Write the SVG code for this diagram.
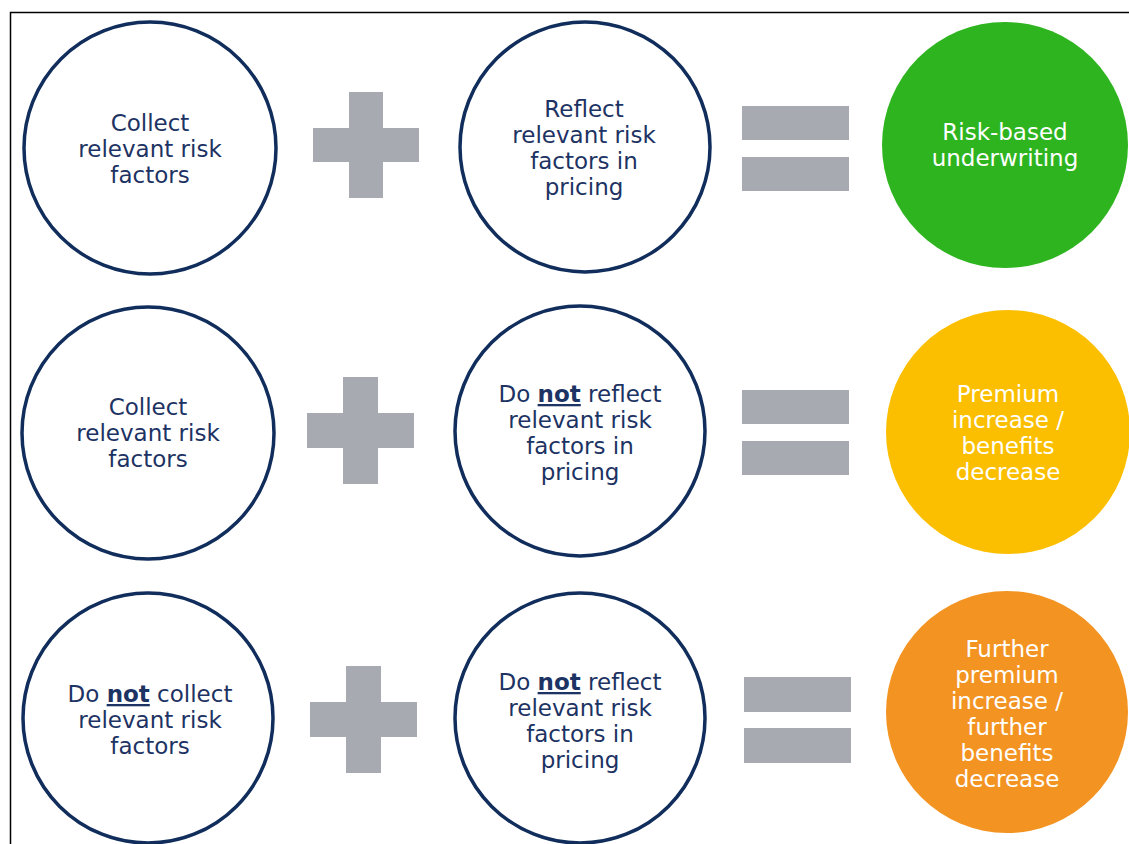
<svg xmlns="http://www.w3.org/2000/svg" width="1129" height="844" viewBox="0 0 1129 844">
<style>
.ring{fill:#fff;stroke:#102d5c;stroke-width:3.5}
.t{font-family:"DejaVu Sans",Verdana,sans-serif;font-size:23px;text-anchor:middle;fill:#1d3363}
.w{fill:#fff}
.op{fill:#a8aab1}
.u{font-weight:bold;text-decoration:underline}
</style>
<rect x="0" y="0" width="1129" height="844" fill="#fff"/>
<rect x="10.5" y="12.5" width="1130" height="840" fill="none" stroke="#000" stroke-width="1.5"/>
<g id="connectors">
<g id="plus1" class="op"><rect x="349" y="92" width="34" height="106"/><rect x="313" y="128" width="106" height="34"/></g>
<g id="eq1" class="op"><rect x="742" y="106" width="107" height="34"/><rect x="742" y="157" width="107" height="34"/></g>
<g id="plus2" class="op"><rect x="343" y="377" width="35" height="107"/><rect x="307" y="413" width="107" height="35"/></g>
<g id="eq2" class="op"><rect x="742" y="390" width="107" height="34"/><rect x="742" y="441" width="107" height="34"/></g>
<g id="plus3" class="op"><rect x="346" y="666" width="35" height="107"/><rect x="310" y="702" width="107" height="35"/></g>
<g id="eq3" class="op"><rect x="744" y="677" width="107" height="35"/><rect x="744" y="728" width="107" height="35"/></g>
</g>
<g id="r1a"><circle class="ring" cx="150" cy="148" r="126"/>
<text class="t"><tspan x="150" y="131">Collect</tspan><tspan x="150" y="157">relevant risk</tspan><tspan x="150" y="183">factors</tspan></text></g>
<g id="r1b"><circle class="ring" cx="585" cy="147" r="125"/>
<text class="t"><tspan x="584" y="117">Reflect</tspan><tspan x="584" y="143">relevant risk</tspan><tspan x="584" y="169">factors in</tspan><tspan x="584" y="195">pricing</tspan></text></g>
<g id="r1c"><circle cx="1005" cy="145" r="123" fill="#2eb41f"/>
<text class="t w"><tspan x="1005" y="140">Risk-based</tspan><tspan x="1005" y="166">underwriting</tspan></text></g>
<g id="r2a"><circle class="ring" cx="148" cy="433" r="126"/>
<text class="t"><tspan x="148" y="415">Collect</tspan><tspan x="148" y="441">relevant risk</tspan><tspan x="148" y="467">factors</tspan></text></g>
<g id="r2b"><circle class="ring" cx="580" cy="431" r="125"/>
<text class="t"><tspan x="580" y="402">Do <tspan class="u">not</tspan> reflect</tspan><tspan x="580" y="428">relevant risk</tspan><tspan x="580" y="454">factors in</tspan><tspan x="580" y="480">pricing</tspan></text></g>
<g id="r2c"><circle cx="1008" cy="432" r="122" fill="#fcbf00"/>
<text class="t w"><tspan x="1008" y="402">Premium</tspan><tspan x="1008" y="428">increase /</tspan><tspan x="1008" y="454">benefits</tspan><tspan x="1008" y="480">decrease</tspan></text></g>
<g id="r3a"><circle class="ring" cx="148" cy="718" r="125"/>
<text class="t"><tspan x="150" y="702">Do <tspan class="u">not</tspan> collect</tspan><tspan x="150" y="728">relevant risk</tspan><tspan x="150" y="754">factors</tspan></text></g>
<g id="r3b"><circle class="ring" cx="580" cy="718" r="125"/>
<text class="t"><tspan x="580" y="690">Do <tspan class="u">not</tspan> reflect</tspan><tspan x="580" y="716">relevant risk</tspan><tspan x="580" y="742">factors in</tspan><tspan x="580" y="768">pricing</tspan></text></g>
<g id="r3c"><circle cx="1007" cy="712" r="121" fill="#f39322"/>
<text class="t w"><tspan x="1007" y="657">Further</tspan><tspan x="1007" y="683">premium</tspan><tspan x="1007" y="709">increase /</tspan><tspan x="1007" y="735">further</tspan><tspan x="1007" y="761">benefits</tspan><tspan x="1007" y="787">decrease</tspan></text></g>
</svg>
